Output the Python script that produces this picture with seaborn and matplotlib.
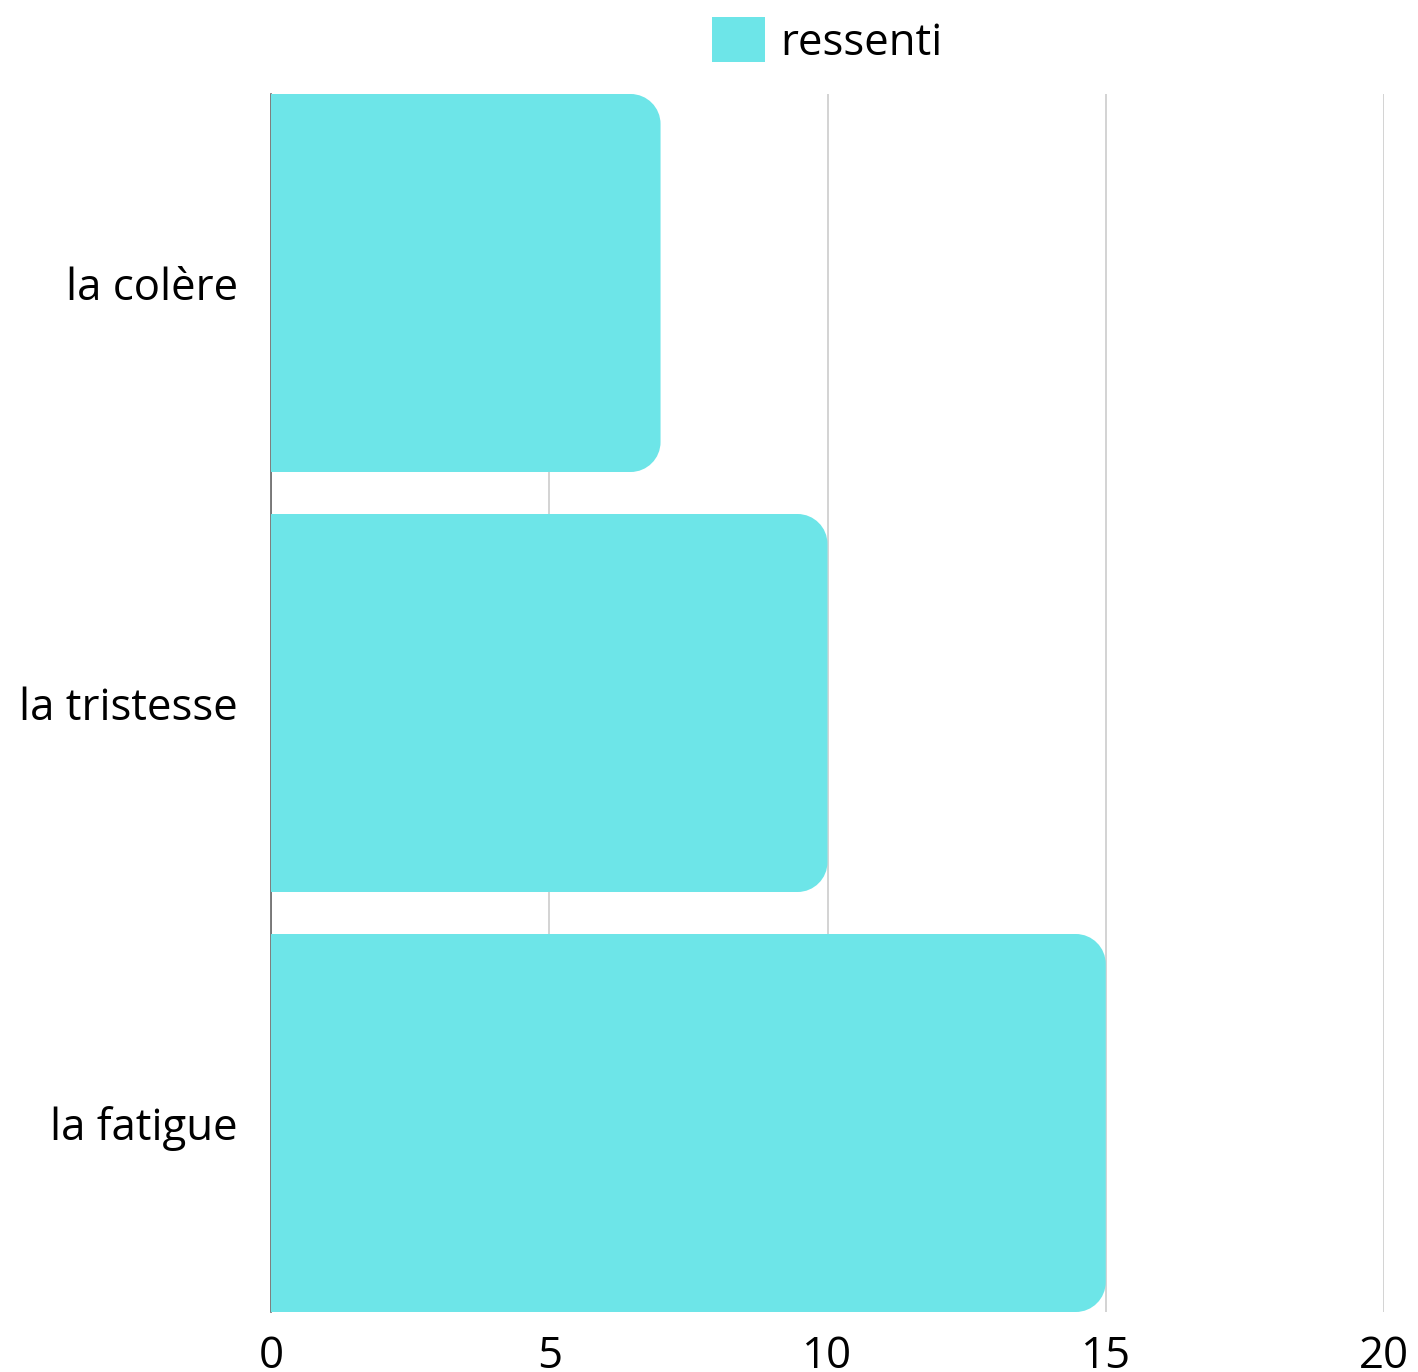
import matplotlib
matplotlib.use('Agg')
import matplotlib.pyplot as plt
from matplotlib.path import Path
from matplotlib.patches import PathPatch, Patch
import seaborn as sns
import pandas as pd

categories = ['la colère', 'la tristesse', 'la fatigue']
values = [7, 10, 15]
series_name = 'ressenti'
xticks = [0, 5, 10, 15, 20]

sns.set_style('white')
plt.rcParams['font.family'] = ['Open Sans', 'DejaVu Sans']

df = pd.DataFrame({'emotion': categories, 'value': values})

fig = plt.figure(figsize=(14.18, 13.72), dpi=100)
ax = fig.add_axes([271/1418, 1 - 1312/1372, (1384 - 271)/1418, (1312 - 94)/1372])

color = '#6DE5E8'
sns.barplot(data=df, x='value', y='emotion', color=color,
            width=0.9, saturation=1, ax=ax, zorder=3)

ax.set_xlim(0, 20)
ax.set_ylim(2.45, -0.45)

# rounded right corners
rx = 30 / (1113 / 20)
ry = 30 / 420
for p in list(ax.patches):
    x0, y0 = p.get_x(), p.get_y()
    w, h = p.get_width(), p.get_height()
    x1, y1 = x0 + w, y0 + h
    k = 0.5523
    verts = [(x0, y0), (x1 - rx, y0),
             (x1 - rx + k * rx, y0), (x1, y0 + ry - k * ry), (x1, y0 + ry),
             (x1, y1 - ry),
             (x1, y1 - ry + k * ry), (x1 - rx + k * rx, y1), (x1 - rx, y1),
             (x0, y1), (x0, y0)]
    codes = [Path.MOVETO, Path.LINETO,
             Path.CURVE4, Path.CURVE4, Path.CURVE4,
             Path.LINETO,
             Path.CURVE4, Path.CURVE4, Path.CURVE4,
             Path.LINETO, Path.CLOSEPOLY]
    rp = PathPatch(Path(verts, codes), facecolor=color, edgecolor='none', zorder=3)
    p.set_visible(False)
    ax.add_patch(rp)

ax.set_xticks(xticks)
ax.set_xticklabels([str(t) for t in xticks])
ax.xaxis.grid(True, color='#cccccc', linewidth=1.2, zorder=0)
ax.set_axisbelow(True)
ax.tick_params(axis='both', length=0, labelsize=31.5, colors='black')
ax.tick_params(axis='x', pad=16)
ax.tick_params(axis='y', pad=24)
ax.set_xlabel('')
ax.set_ylabel('')

for s in ['top', 'right', 'bottom']:
    ax.spines[s].set_visible(False)
ax.spines['left'].set_color('#666666')
ax.spines['left'].set_linewidth(1.2)
ax.spines['left'].set_zorder(1)

handle = Patch(facecolor=color, edgecolor='none', label=series_name)
leg = ax.legend(handles=[handle], loc='lower center', bbox_to_anchor=(0.5, 1.0),
                frameon=False, fontsize=31.5, handlelength=1.2, handleheight=1.2,
                handletextpad=0.35, borderaxespad=0.25)
for t in leg.get_texts():
    t.set_color('black')

fig.savefig('out.png', dpi=100)
